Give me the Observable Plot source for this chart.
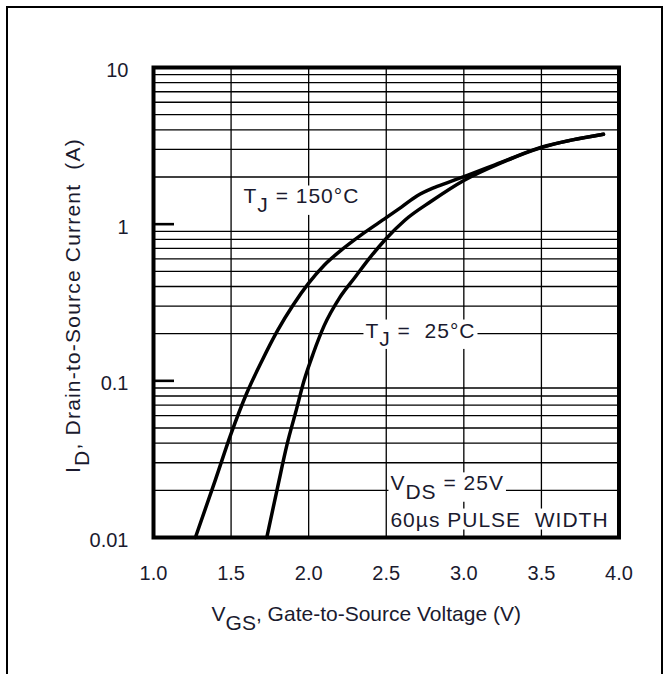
<!DOCTYPE html>
<html><head><meta charset="utf-8">
<script src="https://cdn.jsdelivr.net/npm/d3@7"></script>
<script src="https://cdn.jsdelivr.net/npm/@observablehq/plot@0.6"></script>
<style>
body{margin:0;background:#fff;}
#wrap{position:relative;width:672px;height:674px;overflow:hidden;background:#fff;}
#wrap svg{position:absolute;left:0;top:0;}
#border{position:absolute;left:6px;top:6px;width:653px;height:700px;border-left:2px solid #000;border-top:2px solid #000;border-right:2px solid #000;pointer-events:none;}
</style></head><body><div id="wrap"><div id="border"></div></div>
<script>
// T_J = 150 °C curve
const vgs150 = [1.27, 1.40, 1.50, 1.60, 1.70, 1.80, 1.90, 2.00, 2.10, 2.20, 2.35, 2.50, 2.60, 2.70, 2.80, 2.90, 3.00, 3.24, 3.50, 3.70, 3.90];
const id150  = [0.010, 0.0235, 0.046, 0.083, 0.135, 0.21, 0.305, 0.42, 0.547, 0.67, 0.87, 1.10, 1.29, 1.52, 1.70, 1.85, 2.01, 2.48, 3.10, 3.45, 3.75];
// T_J = 25 °C curve
const vgs25 = [1.73, 1.80, 1.86, 1.92, 1.97, 2.03, 2.10, 2.20, 2.30, 2.40, 2.50, 2.62, 2.79, 3.00, 3.24, 3.50, 3.70, 3.90];
const id25  = [0.010, 0.021, 0.039, 0.065, 0.100, 0.150, 0.225, 0.34, 0.46, 0.62, 0.81, 1.06, 1.40, 1.90, 2.46, 3.08, 3.45, 3.75];

const xTicks = [1.0, 1.5, 2.0, 2.5, 3.0, 3.5, 4.0];
const xGrid = [1.5, 2.0, 2.5, 3.0, 3.5];
const yTicks = [10, 1, 0.1, 0.01];
const yMinor = [0.02,0.03,0.04,0.05,0.06,0.07,0.08,0.09,0.2,0.3,0.4,0.5,0.6,0.7,0.8,0.9,2,3,4,5,6,7,8,9];

const xTitle = "V{GS}, Gate-to-Source Voltage (V)";
const yTitle = "I{D}, Drain-to-Source Current\u00a0\u00a0(A)";

const noteText = ["T{J} = 150°C", "T{J} =\u00a0\u00a025°C", "V{DS} = 25V", "60µs PULSE\u00a0\u00a0WIDTH"];
const noteX = [1.58, 2.366, 2.527, 2.527];
const noteY = [1.355, 0.189, 0.0200, 0.01175];

const ink = "#1a1a2e";
const font = "'Liberation Sans', Arial, Helvetica, sans-serif";

const s150 = vgs150.map((v, i) => ({v, i: id150[i]}));
const s25 = vgs25.map((v, i) => ({v, i: id25[i]}));
const notes = noteText.map((t, k) => ({t, x: noteX[k], y: noteY[k]}));

const chart = Plot.plot({
  width: 672,
  height: 674,
  marginLeft: 153,
  marginRight: 53.5,
  marginTop: 67,
  marginBottom: 137,
  style: {fontFamily: font, fontSize: "21px", color: ink, background: "transparent"},
  x: {domain: [1, 4]},
  y: {type: "log", domain: [0.01, 10]},
  marks: [
    Plot.gridY(yMinor, {stroke: "#000", strokeOpacity: 1, strokeWidth: 1.3}),
    Plot.gridX(xGrid, {stroke: "#000", strokeOpacity: 1, strokeWidth: 1.3}),
    Plot.axisY(yTicks, {tickSize: -21, strokeWidth: 2.6, stroke: "#000", tickFormat: () => "", label: null}),
    Plot.axisY(yTicks, {tickSize: 0, tickPadding: 25, dy: 3, tickFormat: d => String(d), label: null, fill: ink, fontSize: 20}),
    Plot.axisX(xTicks, {tickSize: 0, tickPadding: 28, tickFormat: d3.format(".1f"), label: null, fill: ink, fontSize: 20}),
    Plot.text(notes, {x: "x", y: "y", text: "t", textAnchor: "start", lineAnchor: "bottom", fill: ink, fontSize: 21}),
    Plot.line(s150, {x: "v", y: "i", curve: "monotone-x", stroke: "#000", strokeWidth: 3.5}),
    Plot.line(s25, {x: "v", y: "i", curve: "monotone-x", stroke: "#000", strokeWidth: 3.5}),
    Plot.text([xTitle], {text: d => d, frameAnchor: "bottom", textAnchor: "middle", lineAnchor: "middle", dx: -20, dy: 77, fill: ink, fontSize: 21}),
    Plot.text([yTitle], {text: d => d, frameAnchor: "left", textAnchor: "middle", lineAnchor: "middle", rotate: -90, dx: -80, dy: 3, fill: ink, fontSize: 21}),
    Plot.frame({stroke: "#000", strokeWidth: 4})
  ]
});

const noteEls = [];
let yTitleEl = null;
chart.querySelectorAll("text").forEach(t => {
  if (noteText.includes(t.textContent)) noteEls.push(t);
  if (t.textContent === yTitle) yTitleEl = t;
});

// turn {X} into subscript tspans
chart.querySelectorAll("text").forEach(t => {
  const s = t.textContent;
  if (!s.includes("{")) return;
  t.textContent = "";
  const parts = s.split(/(\{[^}]*\})/);
  let shifted = false;
  for (const p of parts) {
    if (!p) continue;
    const ts = document.createElementNS("http://www.w3.org/2000/svg", "tspan");
    if (p.startsWith("{")) {
      ts.textContent = p.slice(1, -1);
      ts.setAttribute("dy", "0.4em");
      shifted = true;
    } else {
      ts.textContent = p;
      if (shifted) { ts.setAttribute("dy", "-0.4em"); shifted = false; }
    }
    t.appendChild(ts);
  }
});

document.getElementById("wrap").prepend(chart);

if (yTitleEl) yTitleEl.setAttribute("letter-spacing", "1.2");
// white boxes behind the in-plot notes
noteEls.forEach(t => {
  t.setAttribute("letter-spacing", "1");
  const b = t.getBBox();
  const r = document.createElementNS("http://www.w3.org/2000/svg", "rect");
  r.setAttribute("x", b.x - 2);
  r.setAttribute("y", b.y + 1);
  r.setAttribute("width", b.width + 4);
  r.setAttribute("height", b.height - 2);
  r.setAttribute("fill", "#fff");
  if (t.getAttribute("transform")) r.setAttribute("transform", t.getAttribute("transform"));
  t.parentNode.insertBefore(r, t);
});
</script>
</body></html>
